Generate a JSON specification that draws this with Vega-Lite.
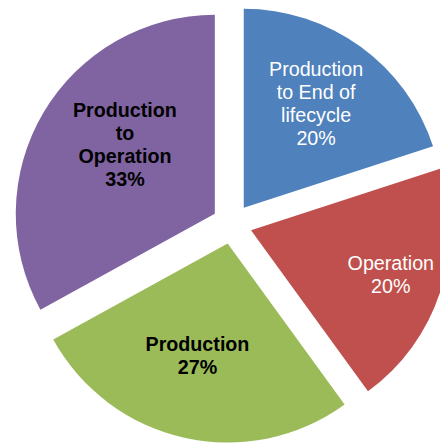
{
  "$schema": "https://vega.github.io/schema/vega-lite/v6.json",
  "width": 416,
  "height": 438,
  "autosize": {"type": "none"},
  "padding": {"left": 24, "top": 5, "right": 0, "bottom": 0},
  "background": "white",
  "view": {"stroke": null},
  "data": {
    "values": [
      {"name": "Production to End of lifecycle", "label": "Production\nto End of\nlifecycle", "value": 20},
      {"name": "Operation", "label": "Operation", "value": 20},
      {"name": "Production", "label": "Production", "value": 27},
      {"name": "Production to Operation", "label": "Production\nto\nOperation", "value": 33}
    ]
  },
  "transform": [
    {"window": [{"op": "row_number", "as": "idx"}]},
    {"calculate": "datum.label + '\\n' + datum.value + '%'", "as": "text"}
  ],
  "encoding": {
    "theta": {"field": "value", "type": "quantitative", "stack": true},
    "order": {"field": "idx", "type": "quantitative"}
  },
  "layer": [
    {
      "mark": {
        "type": "arc",
        "radius": 199,
        "xOffset": {"expr": "20*sin(scale('theta', (datum.value_start + datum.value_end)/2))"},
        "yOffset": {"expr": "-20*cos(scale('theta', (datum.value_start + datum.value_end)/2))"}
      },
      "encoding": {
        "color": {
          "field": "name",
          "type": "nominal",
          "legend": null,
          "scale": {
            "domain": ["Production to End of lifecycle", "Operation", "Production", "Production to Operation"],
            "range": ["#4F81BD", "#C0504D", "#9BBB59", "#8064A2"]
          }
        }
      }
    },
    {
      "mark": {
        "type": "text",
        "radius": {"expr": "datum.name == 'Operation' ? 167 : datum.name == 'Production to End of lifecycle' ? 146.5 : datum.name == 'Production' ? 137 : 132.5"},
        "thetaOffset": {"expr": "datum.name == 'Production to Operation' ? 0.096 : datum.name == 'Production' ? 0.035 : datum.name == 'Production to End of lifecycle' ? -0.017 : 0"},
        "font": "Liberation Sans",
        "fontSize": 19.7,
        "lineBreak": "\n",
        "lineHeight": 23,
        "baseline": "middle",
        "dy": {"expr": "-(length(split(datum.text, '\\n')) - 1) * 11.5"},
        "fontWeight": {"expr": "indexof(['Production', 'Production to Operation'], datum.name) >= 0 ? 'bold' : 'normal'"}
      },
      "encoding": {
        "text": {"field": "text", "type": "nominal"},
        "color": {
          "field": "name",
          "type": "nominal",
          "legend": null,
          "scale": {
            "domain": ["Production to End of lifecycle", "Operation", "Production", "Production to Operation"],
            "range": ["#FFFFFF", "#FFFFFF", "#000000", "#000000"]
          }
        }
      }
    }
  ],
  "resolve": {"scale": {"color": "independent"}}
}
